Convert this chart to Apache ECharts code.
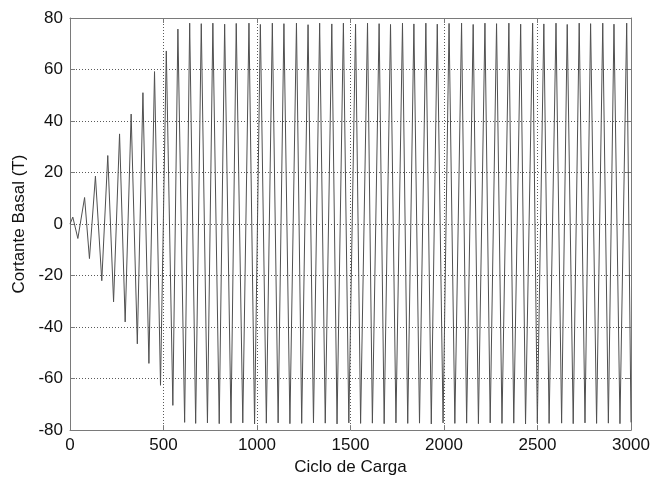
<!DOCTYPE html>
<html>
<head>
<meta charset="utf-8">
<script src="https://cdn.jsdelivr.net/npm/echarts@6/dist/echarts.min.js"></script>
<style>
  html, body { margin: 0; padding: 0; background: #fff; }
  #chart { width: 654px; height: 481px; }
</style>
</head>
<body>
<div id="chart"></div>
<script>
// Load cycle history: positive peaks and negative troughs of base shear (T)
const peakX = [15, 78, 136, 202, 265, 327, 390, 452, 515, 577, 640, 702, 764, 827, 889, 957,
  1018, 1082, 1144, 1211, 1273, 1335, 1400, 1462, 1527, 1591, 1653, 1714, 1778, 1839, 1903, 1964,
  2027, 2094, 2156, 2219, 2281, 2347, 2410, 2474, 2534, 2599, 2659, 2723, 2784, 2849, 2909, 2977];
const peakY = [2.7, 10.3, 18.6, 26.6, 35.0, 42.7, 51.0, 59.2, 67.2, 75.7, 78.0, 77.8, 78.0, 77.6, 77.9, 78.0,
  77.5, 78.0, 77.8, 78.0, 77.4, 78.0, 77.7, 78.0, 77.6, 78.0, 77.8, 77.5, 78.0, 77.7, 78.0, 77.6,
  77.9, 78.0, 77.5, 78.0, 77.8, 78.0, 77.6, 78.0, 77.7, 78.0, 77.5, 78.0, 77.8, 78.0, 77.6, 78.0];
const troughX = [42, 104, 170, 233, 295, 360, 422, 484, 550, 613, 672, 735, 798, 861, 924, 987,
  1050, 1113, 1176, 1239, 1302, 1365, 1428, 1491, 1554, 1617, 1680, 1743, 1806, 1869, 1932, 1995,
  2058, 2121, 2184, 2247, 2310, 2373, 2436, 2499, 2562, 2629, 2691, 2754, 2816, 2879, 2941, 3000];
const troughY = [-5.6, -13.4, -22.0, -30.2, -38.0, -46.5, -54.1, -62.6, -70.4, -77.0, -77.4, -77.2, -77.5, -77.3, -77.2, -77.6,
  -77.3, -77.2, -77.5, -77.4, -77.2, -77.3, -77.6, -77.2, -77.4, -77.3, -77.5, -77.2, -77.4, -77.3, -77.6, -77.2,
  -77.4, -77.3, -77.5, -77.2, -77.4, -77.3, -77.6, -77.2, -77.4, -77.3, -77.5, -77.2, -77.4, -77.3, -77.5, -77.0];

const xTicks = [0, 500, 1000, 1500, 2000, 2500, 3000];
const yTicks = [-80, -60, -40, -20, 0, 20, 40, 60, 80];

// Interleave turning points into one continuous history
const history = [[0, 0]];
for (let i = 0; i < peakX.length; i++) {
  history.push([peakX[i], peakY[i]]);
  history.push([troughX[i], troughY[i]]);
}

const font = 'Liberation Sans, Arial, sans-serif';
const borderColor = '#7a7a7a';
const textColor = '#111111';
const gridDash = { color: '#5a5a5a', width: 1, type: [1, 2] };
const plain = v => String(v);

const chart = echarts.init(document.getElementById('chart'), null, { renderer: 'canvas' });
chart.setOption({
  animation: false,
  backgroundColor: '#ffffff',
  grid: { left: 70, right: 23, top: 18, bottom: 43, containLabel: false },
  xAxis: [{
    type: 'value', min: xTicks[0], max: xTicks[xTicks.length - 1], interval: 500,
    name: 'Ciclo de Carga', nameLocation: 'middle', nameGap: 24,
    nameTextStyle: { fontFamily: font, fontSize: 17, color: textColor },
    axisLine: { show: true, onZero: false, lineStyle: { color: borderColor, width: 1 } },
    axisTick: { show: true, inside: true, length: 5, lineStyle: { color: borderColor } },
    axisLabel: { fontFamily: font, fontSize: 17, color: textColor, margin: 7, formatter: plain },
    splitLine: { show: true, lineStyle: gridDash }
  }, {
    type: 'value', position: 'top', min: xTicks[0], max: xTicks[xTicks.length - 1], interval: 500,
    axisLine: { show: true, onZero: false, lineStyle: { color: borderColor, width: 1 } },
    axisTick: { show: true, inside: true, length: 5, lineStyle: { color: borderColor } },
    axisLabel: { show: false },
    splitLine: { show: false }
  }],
  yAxis: [{
    type: 'value', min: yTicks[0], max: yTicks[yTicks.length - 1], interval: 20,
    name: 'Cortante Basal (T)', nameLocation: 'middle', nameGap: 40, nameRotate: 90,
    nameTextStyle: { fontFamily: font, fontSize: 17, color: textColor },
    axisLine: { show: true, onZero: false, lineStyle: { color: borderColor, width: 1 } },
    axisTick: { show: true, inside: true, length: 5, lineStyle: { color: borderColor } },
    axisLabel: { fontFamily: font, fontSize: 17, color: textColor, margin: 7, formatter: plain },
    splitLine: { show: true, lineStyle: gridDash }
  }, {
    type: 'value', position: 'right', min: yTicks[0], max: yTicks[yTicks.length - 1], interval: 20,
    axisLine: { show: true, onZero: false, lineStyle: { color: borderColor, width: 1 } },
    axisTick: { show: true, inside: true, length: 5, lineStyle: { color: borderColor } },
    axisLabel: { show: false },
    splitLine: { show: false }
  }],
  series: [{
    type: 'line',
    xAxisIndex: 0, yAxisIndex: 0,
    data: history,
    showSymbol: false,
    symbol: 'none',
    lineStyle: { color: '#505050', width: 1 },
    clip: true
  }]
});
</script>
</body>
</html>
